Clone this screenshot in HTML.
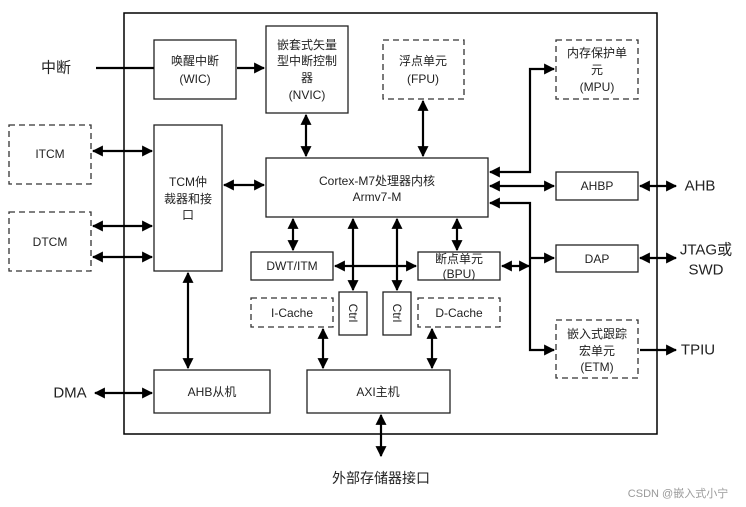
<!DOCTYPE html>
<html><head><meta charset="utf-8"><style>
body{margin:0;background:#fff}
svg{display:block}
text{font-family:"Liberation Sans","Noto Sans CJK SC",sans-serif;fill:#222;text-anchor:middle;dominant-baseline:central}
.b{fill:#fff;stroke:#222;stroke-width:1.3}
.d{fill:#fff;stroke:#333;stroke-width:1.3;stroke-dasharray:6,4}
.a{stroke:#000;stroke-width:2.2;fill:none}
</style></head><body>
<svg width="746" height="507" viewBox="0 0 746 507" xmlns="http://www.w3.org/2000/svg">
<defs>
<marker id="h" viewBox="0 0 10 10" refX="9" refY="5" markerWidth="5" markerHeight="5" orient="auto-start-reverse" markerUnits="strokeWidth">
<path d="M0,0 L10,5 L0,10 z" fill="#000"/></marker>
</defs>
<rect x="124" y="13" width="533" height="421" fill="none" stroke="#000" stroke-width="1.5"/>
<!-- boxes -->
<rect class="b" x="154" y="40" width="82" height="59"/>
<text x="195" y="61" font-size="12">唤醒中断</text><text x="195" y="79" font-size="12">(WIC)</text>
<rect class="b" x="266" y="26" width="82" height="87"/>
<text x="307" y="45" font-size="12">嵌套式矢量</text><text x="307" y="61" font-size="12">型中断控制</text><text x="307" y="78" font-size="12">器</text><text x="307" y="95" font-size="12">(NVIC)</text>
<rect class="d" x="383" y="40" width="81" height="59"/>
<text x="423" y="61" font-size="12">浮点单元</text><text x="423" y="79" font-size="12">(FPU)</text>
<rect class="d" x="556" y="40" width="82" height="59"/>
<text x="597" y="53" font-size="12">内存保护单</text><text x="597" y="70" font-size="12">元</text><text x="597" y="87" font-size="12">(MPU)</text>
<rect class="d" x="9" y="125" width="82" height="59"/><text x="50" y="154" font-size="12">ITCM</text>
<rect class="d" x="9" y="212" width="82" height="59"/><text x="50" y="242" font-size="12">DTCM</text>
<rect class="b" x="154" y="125" width="68" height="146"/>
<text x="188" y="182" font-size="12">TCM仲</text><text x="188" y="199" font-size="12">裁器和接</text><text x="188" y="215" font-size="12">口</text>
<rect class="b" x="266" y="158" width="222" height="59"/>
<text x="377" y="181" font-size="12">Cortex-M7处理器内核</text><text x="377" y="197" font-size="12">Armv7-M</text>
<rect class="b" x="556" y="172" width="82" height="28"/><text x="597" y="186" font-size="12">AHBP</text>
<rect class="b" x="556" y="245" width="82" height="27"/><text x="597" y="259" font-size="12">DAP</text>
<rect class="d" x="556" y="320" width="82" height="58"/>
<text x="597" y="334" font-size="12">嵌入式跟踪</text><text x="597" y="351" font-size="12">宏单元</text><text x="597" y="367" font-size="12">(ETM)</text>
<rect class="b" x="251" y="252" width="82" height="28"/><text x="292" y="266" font-size="12">DWT/ITM</text>
<rect class="b" x="418" y="252" width="82" height="28"/><text x="459" y="259" font-size="12">断点单元</text><text x="459" y="274" font-size="12">(BPU)</text>
<rect class="b" x="339" y="292" width="28" height="43"/><text x="353" y="313" font-size="12" transform="rotate(90 353 313)">Ctrl</text>
<rect class="b" x="383" y="292" width="28" height="43"/><text x="397" y="313" font-size="12" transform="rotate(90 397 313)">Ctrl</text>
<rect class="d" x="251" y="298" width="82" height="29"/><text x="292" y="313" font-size="12">I-Cache</text>
<rect class="d" x="418" y="298" width="82" height="29"/><text x="459" y="313" font-size="12">D-Cache</text>
<rect class="b" x="154" y="370" width="116" height="43"/><text x="212" y="392" font-size="12">AHB从机</text>
<rect class="b" x="307" y="370" width="143" height="43"/><text x="378" y="392" font-size="12">AXI主机</text>
<!-- arrows -->
<path class="a" d="M96,68 H154"/>
<path class="a" d="M237,68 H264" marker-end="url(#h)"/>
<path class="a" d="M306,115 V156" marker-start="url(#h)" marker-end="url(#h)"/>
<path class="a" d="M423,101 V156" marker-start="url(#h)" marker-end="url(#h)"/>
<path class="a" d="M224,185 H264" marker-start="url(#h)" marker-end="url(#h)"/>
<path class="a" d="M93,151 H152" marker-start="url(#h)" marker-end="url(#h)"/>
<path class="a" d="M93,226 H152" marker-start="url(#h)" marker-end="url(#h)"/>
<path class="a" d="M93,257 H152" marker-start="url(#h)" marker-end="url(#h)"/>
<path class="a" d="M188,273 V368" marker-start="url(#h)" marker-end="url(#h)"/>
<path class="a" d="M95,393 H152" marker-start="url(#h)" marker-end="url(#h)"/>
<path class="a" d="M293,219 V250" marker-start="url(#h)" marker-end="url(#h)"/>
<path class="a" d="M353,219 V290" marker-start="url(#h)" marker-end="url(#h)"/>
<path class="a" d="M397,219 V290" marker-start="url(#h)" marker-end="url(#h)"/>
<path class="a" d="M457,219 V250" marker-start="url(#h)" marker-end="url(#h)"/>
<path class="a" d="M335,266 H416" marker-start="url(#h)" marker-end="url(#h)"/>
<path class="a" d="M323,329 V368" marker-start="url(#h)" marker-end="url(#h)"/>
<path class="a" d="M432,329 V368" marker-start="url(#h)" marker-end="url(#h)"/>
<path class="a" d="M381,415 V456" marker-start="url(#h)" marker-end="url(#h)"/>
<path class="a" d="M490,172 H530 V69 H554" marker-start="url(#h)" marker-end="url(#h)"/>
<path class="a" d="M490,186 H554" marker-start="url(#h)" marker-end="url(#h)"/>
<path class="a" d="M490,203 H530 V350 H554" marker-start="url(#h)" marker-end="url(#h)"/>
<path class="a" d="M530,258 H554" marker-end="url(#h)"/>
<path class="a" d="M502,266 H529" marker-start="url(#h)" marker-end="url(#h)"/>
<path class="a" d="M640,186 H676" marker-start="url(#h)" marker-end="url(#h)"/>
<path class="a" d="M640,258 H676" marker-start="url(#h)" marker-end="url(#h)"/>
<path class="a" d="M640,350 H676" marker-end="url(#h)"/>
<!-- outside labels -->
<text x="56" y="68" font-size="15">中断</text>
<text x="70" y="393" font-size="15">DMA</text>
<text x="700" y="186" font-size="15">AHB</text>
<text x="706" y="250" font-size="15">JTAG或</text>
<text x="706" y="270" font-size="15">SWD</text>
<text x="698" y="350" font-size="15">TPIU</text>
<text x="381" y="478" font-size="14">外部存储器接口</text>
<text x="678" y="494" font-size="11" style="fill:#999">CSDN @嵌入式小宁</text>
</svg>
</body></html>
